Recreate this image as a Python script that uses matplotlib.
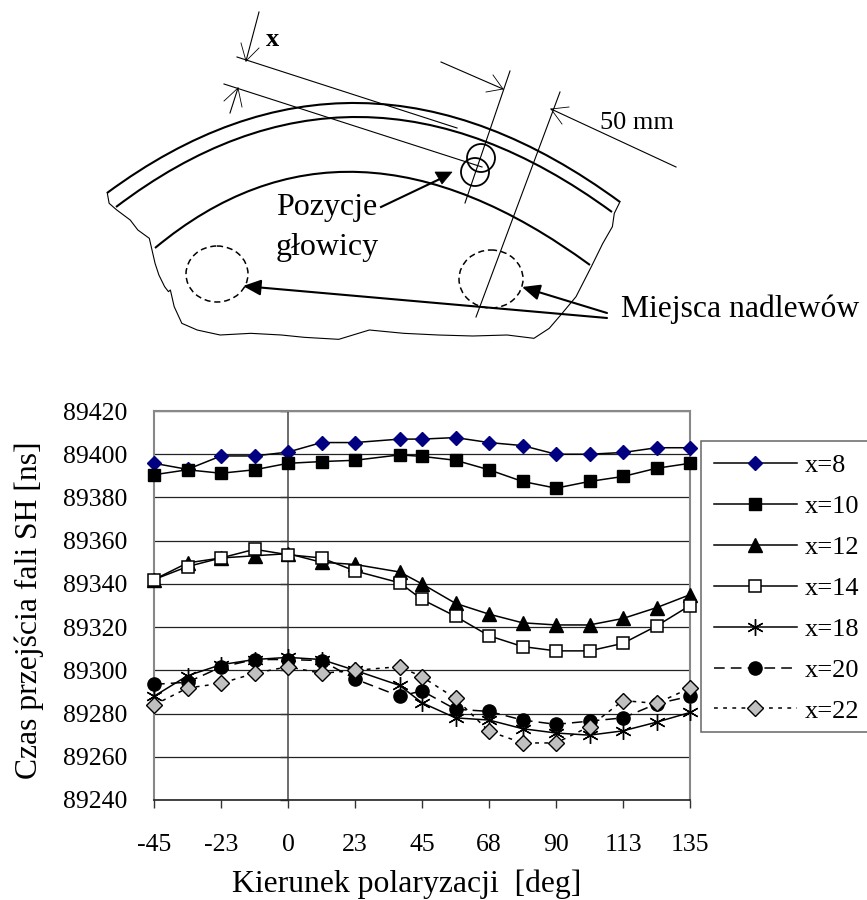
import matplotlib
matplotlib.use("Agg")
import matplotlib.pyplot as plt
from matplotlib.patches import Ellipse, PathPatch, Polygon, Rectangle
from matplotlib.path import Path

plt.rcParams['font.family'] = ['Liberation Serif', 'DejaVu Serif']

# ---------- data ----------
angles = [-45, -33.75, -22.5, -11.25, 0, 11.25, 22.5, 37.5, 45, 56.25, 67.5,
          78.75, 90, 101.25, 112.5, 123.75, 135]
tick_pos = [-45, -22.5, 0, 22.5, 45, 67.5, 90, 112.5, 135]
tick_lab = ['-45', '-23', '0', '23', '45', '68', '90', '113', '135']
y_ticks = list(range(89240, 89421, 20))

x8 = [89395.8, 89393, 89399.2, 89399.2, 89401, 89405.4, 89405.4, 89407, 89407,
      89407.7, 89405.4, 89404, 89400, 89400, 89400.8, 89403, 89403]
x10 = [89390.5, 89392.8, 89391.2, 89392.8, 89395.8, 89396.6, 89397.2, 89399.7,
       89399, 89397.2, 89392.8, 89387.4, 89384.3, 89387.4, 89389.7, 89393.5, 89395.8]
x12 = [89342, 89349.7, 89352, 89353, 89354, 89350, 89349, 89345.5, 89340,
       89331, 89326, 89322, 89321, 89321, 89324, 89329, 89335]
x14 = [89342, 89348, 89352, 89356, 89353.5, 89352, 89346, 89340.5, 89332.8,
       89325, 89316, 89311, 89309, 89309, 89312.5, 89320.5, 89330]
x18 = [89288, 89297.5, 89302.6, 89305, 89306, 89305, 89300, 89293, 89285,
       89278, 89277, 89273, 89271, 89270, 89272, 89276, 89280.5]
x20 = [89293.5, 89294.5, 89301.5, 89305, 89305, 89304.5, 89296, 89288, 89290.5,
       89282, 89281, 89277, 89275, 89276.5, 89278, 89284.5, 89288]
x22 = [89284, 89291.8, 89294, 89298.6, 89301.7, 89298.6, 89300, 89301.7, 89297,
       89287, 89271.8, 89266.4, 89266.4, 89274, 89286, 89284.7, 89291.8]

W, H = 867, 900
fig = plt.figure(figsize=(W / 100, H / 100), dpi=100, facecolor='white')
ax = fig.add_axes([154 / W, 1 - 800 / H, (690 - 154) / W, (800 - 411) / H])

# ---------- chart ----------
star = (6, 2, 0)
styles = [
    ('x=8', x8, dict(color='black', ls='-', marker='D', ms=7, mfc='#000080', mec='#000080')),
    ('x=10', x10, dict(color='black', ls='-', marker='s', ms=9.3, mfc='black', mec='black')),
    ('x=12', x12, dict(color='black', ls='-', marker='^', ms=10, mfc='black', mec='black')),
    ('x=14', x14, dict(color='black', ls='-', marker='s', ms=8.7, mfc='white', mec='black', mew=1.1)),
    ('x=18', x18, dict(color='black', ls='-', marker=star, ms=12, mec='black', mew=1.0)),
    ('x=20', x20, dict(color='black', ls=(0, (7, 4)), marker='o', ms=9.5, mfc='black', mec='black')),
    ('x=22', x22, dict(color='black', ls=(0, (2.5, 3.5)), marker='D', ms=8.3, mfc='#c0c0c0', mec='black', mew=1.0)),
]
for i, (label, vals, st) in enumerate(styles):
    ax.plot(angles, vals, lw=1.1, label=label, zorder=3 + i, clip_on=False, **st)

ax.set_xlim(-45, 135)
ax.set_ylim(89240, 89420)
ax.set_yticks(y_ticks)
ax.set_xticks(tick_pos)
ax.set_xticklabels(tick_lab)
ax.tick_params(axis='x', length=5.7, width=1.0, color='#333333', labelsize=18.5, pad=18.5)
ax.tick_params(axis='y', length=0, labelsize=18.5, pad=19)
ax.grid(axis='y', color='#222222', lw=0.9, zorder=1)
ax.set_axisbelow(True)
ax.axvline(0, color='#444444', lw=1.1, zorder=2)
ax.plot([0] * len(y_ticks), y_ticks, ls='none', marker=0, ms=5.5, color='#333333', zorder=2, clip_on=False)
for s in ['left', 'right', 'top']:
    ax.spines[s].set_color('#888888')
    ax.spines[s].set_linewidth(1.5)
ax.spines['bottom'].set_color('#222222')
ax.spines['bottom'].set_linewidth(1.2)
ax.set_xlabel('Kierunek polaryzacji  [deg]', fontsize=22.8)
ax.xaxis.set_label_coords((407 - 154) / 536, -(884 - 800) / 389, transform=ax.transAxes)
ax.xaxis.label.set_va('center')
ax.set_ylabel('Czas przejścia fali SH [ns]', fontsize=22.8)
ax.yaxis.set_label_coords((29 - 154) / 536, (800 - 610) / 389, transform=ax.transAxes)
ax.yaxis.label.set_va('center')

# legend box runs past the right edge of the picture
fig.add_artist(Rectangle((701 / W, 1 - 732 / H), 200 / W, 291 / H, transform=fig.transFigure,
                         fc='white', ec='#666666', lw=1.1, zorder=20))
leg = ax.legend(loc='upper left', bbox_to_anchor=(706 / W, 1 - 446 / H), bbox_transform=fig.transFigure,
                frameon=False, numpoints=1, fontsize=19, handlelength=3.15, handletextpad=0.3,
                labelspacing=0.66, borderpad=0, borderaxespad=0.3)
leg.set_zorder(30)
leg.remove()
fig.add_artist(leg)

# ---------- diagram (pixel coordinates of the picture) ----------
dg = fig.add_axes([0, 0, 1, 1], facecolor='none', zorder=40)
dg.set_xlim(0, W)
dg.set_ylim(H, 0)
dg.axis('off')

def arc(start, peak, end, lw=1.5):
    ctrl = (2 * peak[0] - (start[0] + end[0]) / 2, 2 * peak[1] - (start[1] + end[1]) / 2)
    dg.add_patch(PathPatch(Path([start, ctrl, end], [Path.MOVETO, Path.CURVE3, Path.CURVE3]),
                           fc='none', ec='black', lw=lw))

arc((107, 193), (360, 103), (620, 202))
arc((116, 207), (360, 117), (612, 212))
arc((155, 248), (360, 172), (590, 265))

outline = [(45, 578), (50, 610), (70, 630), (105, 660), (125, 690), (155, 715), (170, 790), (180, 825),
           (195, 860), (205, 875), (210, 870), (220, 920), (240, 970), (280, 990), (340, 1005), (420, 1000),
           (500, 1005), (560, 1012), (650, 1018), (730, 990), (820, 1000), (910, 1005), (1000, 1008),
           (1090, 1005), (1160, 1015), (1200, 985), (1230, 945), (1270, 890), (1310, 800), (1340, 730),
           (1365, 680), (1370, 640), (1385, 605)]
dg.plot([90 + p[0] / 2.613 for p in outline], [p[1] / 3 for p in outline], color='black', lw=0.8)

thin = [((237, 57), (457, 128)), ((224, 84), (482, 167)), ((510, 71), (465, 203)), ((560, 92), (476, 317)),
        ((441, 62), (503, 89)), ((676, 167), (551, 109)), ((259, 12), (246, 61)), ((230, 113), (238, 88))]
for a, b in thin:
    dg.plot([a[0], b[0]], [a[1], b[1]], color='black', lw=0.8)
heads = [((241, 43), (246, 61), (259, 48)), ((224, 101), (238, 88), (242, 107)),
         ((493, 75), (503, 89), (486, 92)), ((569, 107), (551, 109), (562, 124))]
for h in heads:
    dg.plot([p[0] for p in h], [p[1] for p in h], color='black', lw=0.6)

for c in [(481, 158), (475, 172)]:
    dg.add_patch(Ellipse(c, 28, 28, fc='none', ec='black', lw=1.3))
for c, w, h in [((217, 274), 62, 56), ((491, 279), 64, 58)]:
    dg.add_patch(Ellipse(c, w, h, fc='none', ec='black', lw=1.1, ls=(0, (4, 2.5))))

dg.plot([381, 442], [207, 178], color='black', lw=1.5)
dg.add_patch(Polygon([(435, 172), (452, 172), (442, 184)], closed=True, fc='black', ec='black', lw=0.5))
for a, b in [((607, 318), (243, 286)), ((607, 313), (522, 287))]:
    dg.annotate('', xy=b, xytext=a, arrowprops=dict(arrowstyle='-|>,head_length=0.9,head_width=0.4',
                                                    color='black', lw=1.5, shrinkA=0, shrinkB=0,
                                                    mutation_scale=12))

dg.text(273, 40, 'x', fontsize=19, ha='center', va='center', fontweight='bold')
dg.text(637, 123, '50 mm', fontsize=18.9, ha='center', va='center')
dg.text(327, 208, 'Pozycje', fontsize=23, ha='center', va='center')
dg.text(327, 248, 'głowicy', fontsize=23, ha='center', va='center')
dg.text(621, 309, 'Miejsca nadlewów', fontsize=22.8, ha='left', va='center')

fig.savefig('out.png', dpi=100)
